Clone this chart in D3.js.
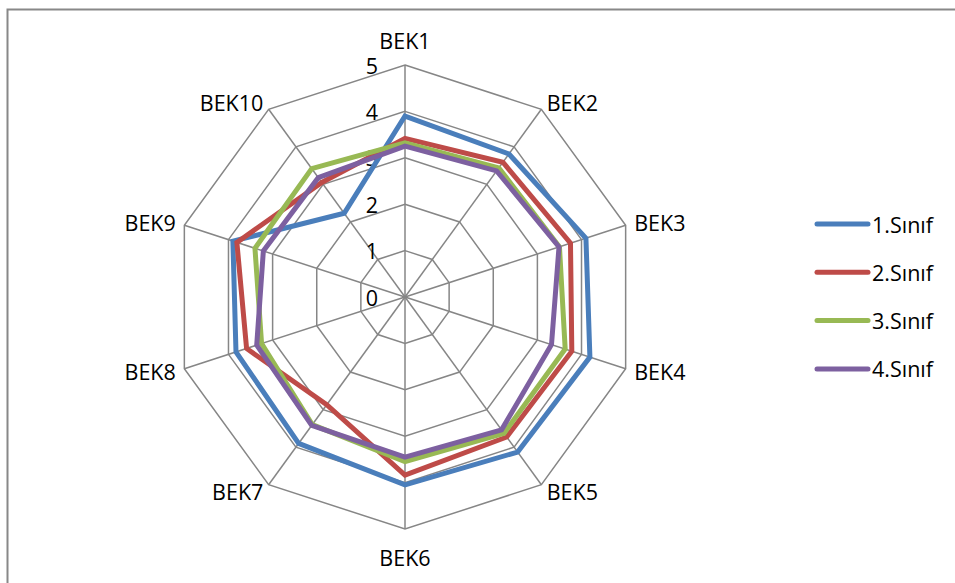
<!DOCTYPE html>
<html>
<head>
<meta charset="utf-8">
<script src="https://cdn.jsdelivr.net/npm/d3@7/dist/d3.min.js"></script>
<style>
  html, body { margin: 0; padding: 0; background: #fff; }
  svg { display: block; }
  text { font-family: "Open Sans", "Liberation Sans", sans-serif; fill: #000; }
</style>
</head>
<body>
<svg id="chart" width="955" height="583"></svg>
<script>
const categories = ["BEK1","BEK2","BEK3","BEK4","BEK5","BEK6","BEK7","BEK8","BEK9","BEK10"];
const seriesNames = ["1.Sınıf","2.Sınıf","3.Sınıf","4.Sınıf"];
const sinif1 = [3.90, 3.81, 4.10, 4.19, 4.13, 4.05, 3.90, 3.83, 3.90, 2.23];
const sinif2 = [3.42, 3.59, 3.75, 3.78, 3.73, 3.84, 2.87, 3.59, 3.81, 3.05];
const sinif3 = [3.32, 3.44, 3.50, 3.63, 3.63, 3.55, 3.40, 3.25, 3.40, 3.42];
const sinif4 = [3.25, 3.36, 3.49, 3.32, 3.54, 3.45, 3.42, 3.36, 3.21, 3.18];
const tickValues = [0, 1, 2, 3, 4, 5];
const colors = ["#4A7EBB", "#BE4B48", "#98B954", "#7D60A0"];

const allSeries = [sinif1, sinif2, sinif3, sinif4];

const svg = d3.select("#chart");
const cx = 405, cy = 297, R = 232;
const fontSize = 21.5;

// outer border
svg.append("rect").attr("x", 7.5).attr("y", 9.5).attr("width", 1100).attr("height", 1100)
  .attr("fill", "none").attr("stroke", "#888").attr("stroke-width", 2);

const g = svg.append("g").attr("transform", `translate(${cx},${cy})`);

const r = d3.scaleLinear().domain([0, 5]).range([0, R]);
const angle = d3.scaleLinear().domain([0, categories.length]).range([0, 2 * Math.PI]);

const pt = (i, v) => [Math.sin(angle(i)) * r(v), -Math.cos(angle(i)) * r(v)];

// grid polygons
const gridLine = d3.line().curve(d3.curveLinearClosed);
tickValues.filter(t => t > 0).forEach(t => {
  g.append("path")
    .attr("d", gridLine(categories.map((c, i) => pt(i, t))))
    .attr("fill", "none").attr("stroke", "#868686").attr("stroke-width", 1.5);
});
// spokes
categories.forEach((c, i) => {
  const p = pt(i, 5);
  g.append("line").attr("x1", 0).attr("y1", 0).attr("x2", p[0]).attr("y2", p[1])
    .attr("stroke", "#868686").attr("stroke-width", 1.5);
});

// tick labels
tickValues.forEach(t => {
  g.append("text").attr("x", -27).attr("y", -r(t))
    .attr("text-anchor", "end").attr("dominant-baseline", "central")
    .style("font-size", fontSize + "px").text(t);
});

// series
const radial = d3.lineRadial()
  .angle((d, i) => angle(i))
  .radius(d => r(d))
  .curve(d3.curveLinearClosed);
allSeries.forEach((s, k) => {
  g.append("path").attr("d", radial(s))
    .attr("fill", "none").attr("stroke", colors[k]).attr("stroke-width", 5)
    .attr("stroke-linejoin", "miter");
});

// category labels
categories.forEach((c, i) => {
  const a = angle(i);
  const sx = Math.sin(a), cy_ = -Math.cos(a);
  let x, y, anchor;
  if (Math.abs(sx) < 0.01) {
    anchor = "middle";
    x = 0;
    y = cy_ < 0 ? -(R + 25) : (R + 28);
  } else {
    anchor = sx > 0 ? "start" : "end";
    x = sx * (R + 9);
    y = cy_ * (R + 9);
  }
  g.append("text").attr("x", x).attr("y", y)
    .attr("text-anchor", anchor).attr("dominant-baseline", "central")
    .style("font-size", fontSize + "px").text(c);
});

// legend
const legend = svg.append("g");
seriesNames.forEach((n, k) => {
  const y = 224 + k * 48.3;
  legend.append("line").attr("x1", 817).attr("x2", 868).attr("y1", y).attr("y2", y)
    .attr("stroke", colors[k]).attr("stroke-width", 5).attr("stroke-linecap", "round");
  legend.append("text").attr("x", 872).attr("y", y).attr("dominant-baseline", "central")
    .style("font-size", fontSize + "px").text(n);
});
</script>
</body>
</html>
